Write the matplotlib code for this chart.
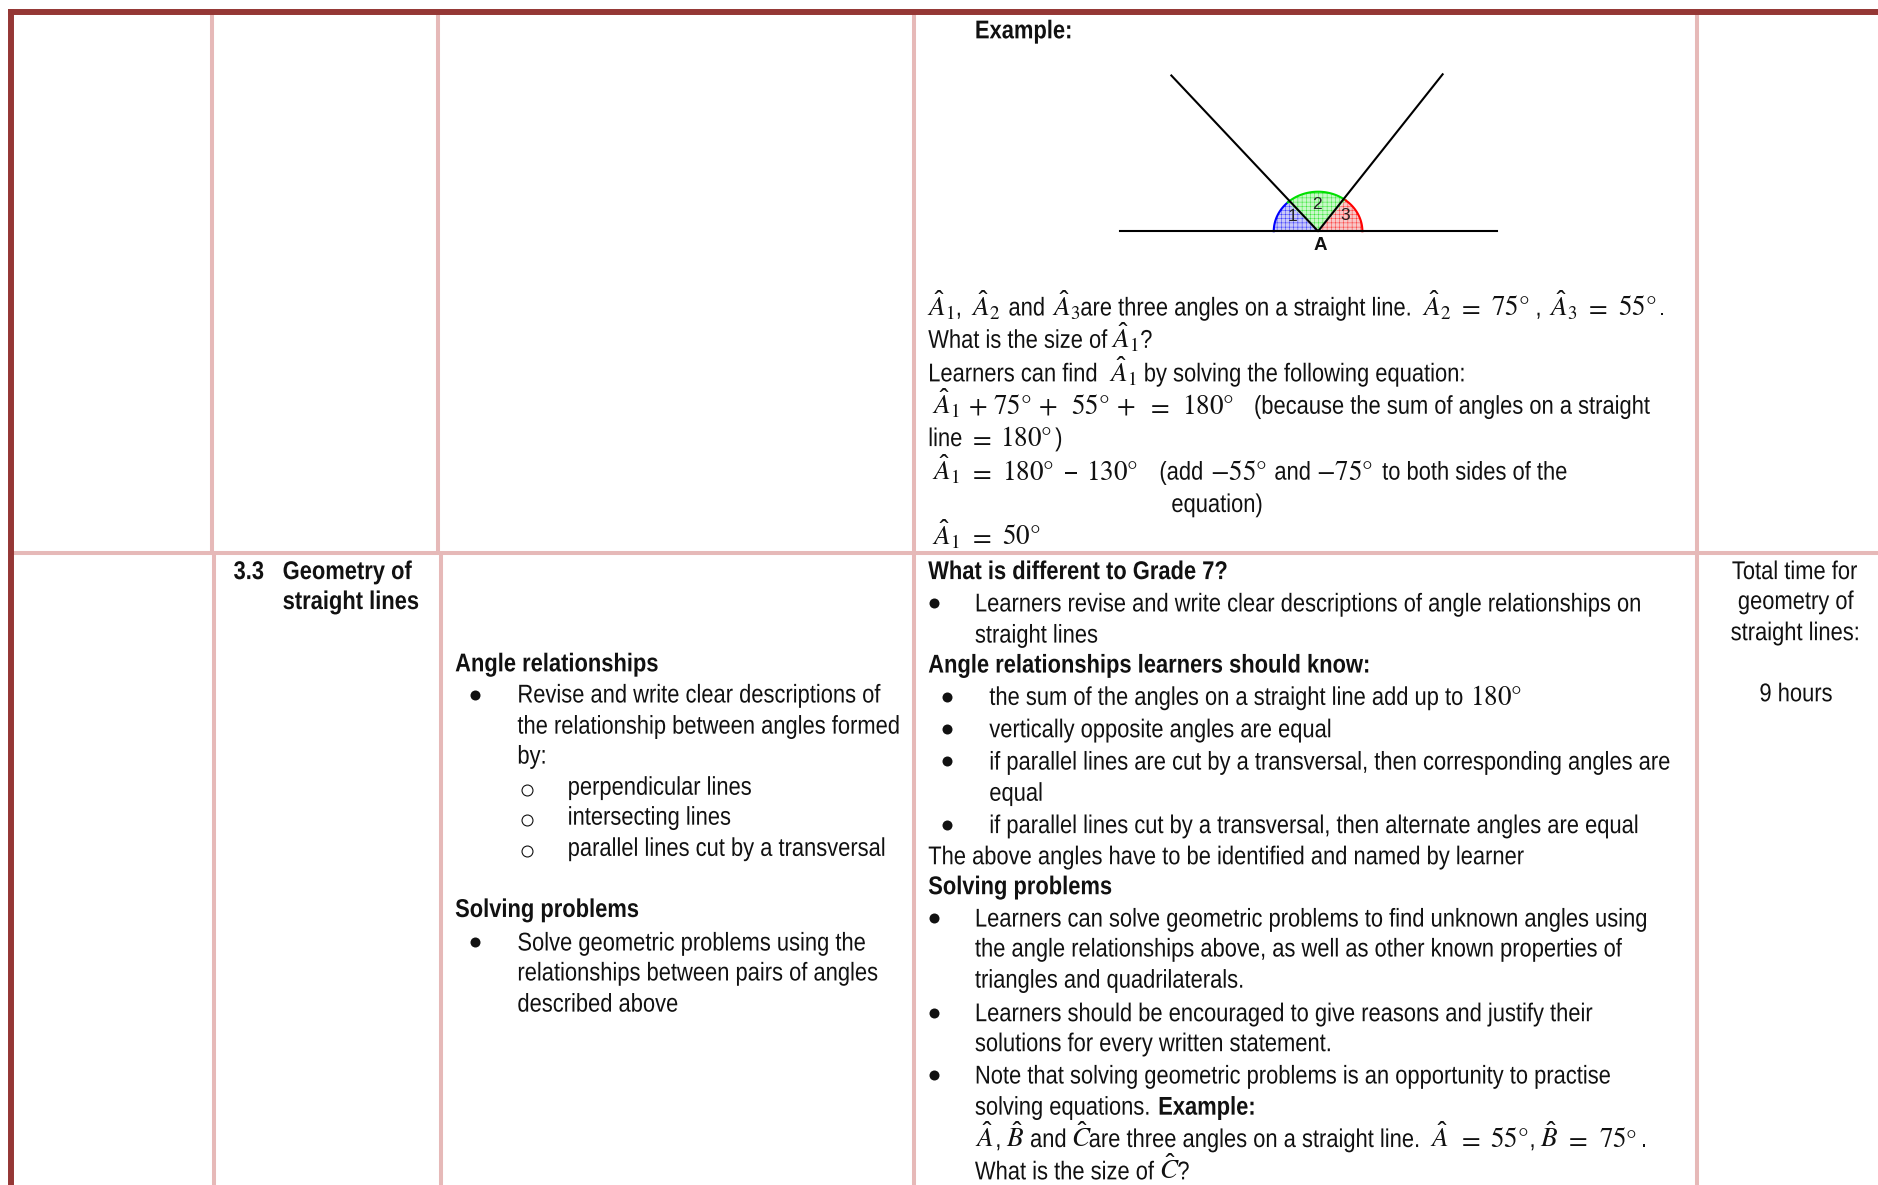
import numpy as np
import matplotlib
matplotlib.use("Agg")
import matplotlib.pyplot as plt
from matplotlib.patches import Polygon
from matplotlib.patheffects import AbstractPathEffect
from matplotlib.transforms import Affine2D

plt.rcParams["font.family"] = ["Liberation Sans", "DejaVu Sans"]
plt.rcParams["mathtext.fontset"] = "stix"
plt.rcParams["mathtext.default"] = "regular"
plt.rcParams["hatch.linewidth"] = 0.25

SX = 0.853


# no narrow font installed, so squeeze the glyphs sideways when drawing
class Squeeze(AbstractPathEffect):
    def draw_path(self, renderer, gc, tpath, affine, rgbFace=None):
        renderer.draw_path(gc, tpath, Affine2D().scale(SX, 1) + affine, rgbFace)


def hat(letter, sub=None):
    s = r"\hat{\mathit{" + letter + "}}"
    if sub:
        s += r"_{\mathrm{" + sub + "}}"
    return "$" + s + "$"


def num(s):
    return r"$\mathrm{" + s + "}$"


A1, A2, A3 = hat("A", "1"), hat("A", "2"), hat("A", "3")
AH, BH, CH = hat("A"), hat("B"), hat("C")
EQ, PLUS = num("="), num("+")

# ---- the text of the table ----
example_rows = [
    [A1, ",", A2, "and", A3, "are three angles on a straight line.", A2, EQ, num("75°"), ",", A3, EQ, num("55°"), "."],
    ["What is the size of", A1, "?"],
    ["Learners can find", A1, "by solving the following equation:"],
    [A1, PLUS, num("75°"), PLUS, num("55°"), PLUS, EQ, num("180°"), "(because the sum of angles on a straight"],
    ["line", EQ, num("180°"), ")"],
    [A1, EQ, num("180°"), "–", num("130°"), "(add", num("-55°"), "and", num("-75°"), "to both sides of the"],
    ["equation)"],
    [A1, EQ, num("50°")],
]
example_xs = [
    [775, 798, 812, 842, 879, 902, 1188, 1218, 1246, 1282, 1294, 1324, 1352, 1385],
    [775, 929, 952],
    [775, 927, 955],
    [779, 809, 830, 868, 895, 933, 959, 988, 1047],
    [775, 810, 836, 881],
    [779, 810, 838, 889, 908, 968, 1011, 1064, 1100, 1154],
    [978],
    [779, 810, 838],
]
example_y = [263.3, 290.3, 318.3, 345.3, 372.3, 400.3, 427.3, 454.3]

col3_rows = [
    "Angle relationships",
    "Revise and write clear descriptions of",
    "the relationship between angles formed",
    "by:",
    "perpendicular lines",
    "intersecting lines",
    "parallel lines cut by a transversal",
    "Solving problems",
    "Solve geometric problems using the",
    "relationships between pairs of angles",
    "described above",
]
col4_rows = [
    "What is different to Grade 7?",
    "Learners revise and write clear descriptions of angle relationships on",
    "straight lines",
    "Angle relationships learners should know:",
    "the sum of the angles on a straight line add up to",
    "vertically opposite angles are equal",
    "if parallel lines are cut by a transversal, then corresponding angles are",
    "equal",
    "if parallel lines cut by a transversal, then alternate angles are equal",
    "The above angles have to be identified and named by learner",
    "Solving problems",
    "Learners can solve geometric problems to find unknown angles using",
    "the angle relationships above, as well as other known properties of",
    "triangles and quadrilaterals.",
    "Learners should be encouraged to give reasons and justify their",
    "solutions for every written statement.",
    "Note that solving geometric problems is an opportunity to practise",
    "solving equations.",
    "What is the size of",
]
last_example = [AH, ",", BH, "and", CH, "are three angles on a straight line.", AH, EQ, num("55°"), ",", BH, EQ, num("75"), num("°"), "."]
last_example_x = [815, 831, 841, 860, 895, 909, 1195, 1218, 1245, 1277, 1287, 1308, 1336, 1358, 1370]
col5_rows = ["Total time for", "geometry of", "straight lines:", "9 hours"]

angle_names = ["1", "2", "3"]
angle_edges = [180, 133, 51.5, 0]
angle_colors = ["#0000ff", "#00e000", "#ff0000"]
angle_fills = ["#c8c8f8", "#c8f8c8", "#f8c8c8"]
label_x = [1079, 1099.7, 1123.5]
label_y = [180.5, 170.3, 180]

DARK = "#953735"
LIGHT = "#e6b9b8"
FS = 18.5
MATH_FS = 19.5
SQUEEZE = [Squeeze()]

# ---- axes in the coordinates of the shrunken reference ----
fig = plt.figure(figsize=(18.78, 11.85), dpi=100)
ax = fig.add_axes([0, 0, 1, 1])
ax.set_xlim(0, 1568)
ax.set_ylim(989, 0)
ax.axis("off")

# ---- table lines ----
for x, y0, y1 in [(177, 12, 461), (365.7, 12, 461), (763.5, 12, 461), (1416.5, 12, 461),
                  (179, 461, 989), (368, 461, 989), (763.5, 461, 989), (1417, 461, 989)]:
    ax.plot([x, x], [y0, y1], color=LIGHT, lw=2.9, solid_capstyle="butt")
ax.plot([11, 1568], [461.5, 461.5], color=LIGHT, lw=2.9, solid_capstyle="butt")
ax.plot([6.7, 1568], [10, 10], color=DARK, lw=4.3, solid_capstyle="butt")
ax.plot([9.2, 9.2], [7.5, 989], color=DARK, lw=4.3, solid_capstyle="butt")


def put(x, y, s, bold=False):
    # math pieces keep their full width, only the Arial-like text is narrow
    if s.startswith("$"):
        ax.text(x - 1, y, s, fontsize=MATH_FS, ha="left", va="baseline", color="#111111")
    else:
        ax.text(x, y, s, fontsize=FS, ha="left", va="baseline", color="#111111",
                fontweight="bold" if bold else "normal", path_effects=SQUEEZE)


# ---- diagram ----
cx, cy, rx, ry = 1100.5, 193, 37, 33
for i in range(3):
    t = np.radians(np.linspace(angle_edges[i], angle_edges[i + 1], 60))
    arc = np.column_stack([cx + rx * np.cos(t), cy - ry * np.sin(t)])
    ax.add_patch(Polygon(np.vstack([[cx, cy], arc]), closed=True, facecolor=angle_fills[i],
                         edgecolor=angle_colors[i], hatch="++++", lw=0, zorder=2))
    ax.plot(arc[:, 0], arc[:, 1], color=angle_colors[i], lw=1.5, zorder=3)
    ax.text(label_x[i], label_y[i], angle_names[i], fontsize=12.5,
            ha="center", va="center", color="#222222", zorder=5)
ax.plot([935, 1250], [193, 193], color="black", lw=1.5, zorder=4)
ax.plot([978, cx, 1204.5], [63, cy, 62], color="black", lw=1.5, zorder=4)
ax.text(1102, 204.5, "A", fontsize=13.5, fontweight="bold", ha="center", va="center", color="#111111")

# ---- top cell ----
put(814, 32, "Example:", bold=True)
for y, xs, parts in zip(example_y, example_xs, example_rows):
    for x, s in zip(xs, parts):
        put(x, y, s)

# ---- column 2 ----
put(195, 483.3, "3.3", bold=True)
put(236, 483.3, "Geometry of", bold=True)
put(236, 508.3, "straight lines", bold=True)

# ---- column 3 ----
col3_x = [380, 432, 432, 432, 474, 474, 474, 380, 432, 432, 432]
col3_y = [560.3, 586.3, 612.3, 637.3, 663.3, 688.3, 714.3, 765.3, 793.3, 818.3, 844.3]
col3_bold = [0, 7]
for i, (x, y, s) in enumerate(zip(col3_x, col3_y, col3_rows)):
    put(x, y, s, bold=i in col3_bold)
ax.scatter([396.6, 396.6], [580, 786], s=52, color="#111111", lw=0)
ax.scatter([440, 440, 440], [659.6, 684.5, 710.6], s=62, facecolor="white", edgecolor="#111111", lw=0.8)

# ---- column 4 ----
col4_x = [775, 814, 814, 775, 826, 826, 826, 826, 826, 775, 775, 814, 814, 814, 814, 814, 814, 814, 814]
col4_y = [483.3, 510.3, 536.3, 561.3, 588.3, 615.3, 642.3, 668.3, 695.3, 721.3, 746.3, 773.3, 798.3,
          824.3, 852.3, 877.3, 904.3, 930.3, 984.3]
col4_bold = [0, 3, 10]
for i, (x, y, s) in enumerate(zip(col4_x, col4_y, col4_rows)):
    put(x, y, s, bold=i in col4_bold)
put(1228, 588.3, num("180°"))
put(967, 930.3, "Example:", bold=True)
for x, s in zip(last_example_x, last_example):
    put(x, 957.3, s)
put(969, 984.3, CH)
put(983, 984.3, "?")
ax.scatter([780, 791, 791, 791, 791, 780, 780, 780], [503.5, 581.5, 608.5, 635.5, 688.5, 766.5, 845.5, 897.5],
           s=52, color="#111111", lw=0)

# ---- column 5 ----
col5_x = [1446, 1451, 1445, 1469]
for x, y, s in zip(col5_x, [483.3, 508.3, 534.3, 585.3], col5_rows):
    put(x, y, s)

fig.savefig("out.png", dpi=100)
